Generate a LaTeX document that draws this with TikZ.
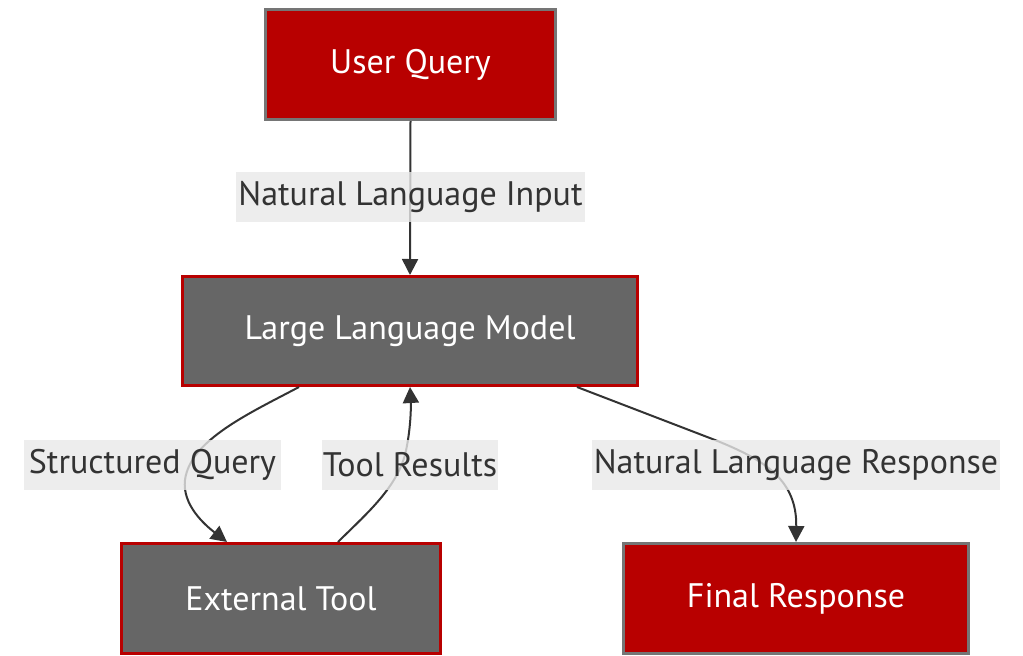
\documentclass[tikz,border=0pt]{standalone}
\usepackage{fontspec}
\setmainfont{PT Sans}
\usetikzlibrary{arrows.meta}
\definecolor{boxred}{HTML}{B80000}
\definecolor{boxgray}{HTML}{666666}
\definecolor{edgegray}{HTML}{333333}
\definecolor{labelbg}{HTML}{E8E8E8}

\begin{document}
\begin{tikzpicture}[x=1pt,y=-1pt,
  nodefont/.style={font=\fontsize{34}{40}\selectfont},
  redbox/.style={nodefont, draw=boxgray!90!white, fill=boxred, line width=3pt,
    text=white, inner sep=0pt},
  graybox/.style={nodefont, draw=boxred, fill=boxgray, line width=3pt,
    text=white, inner sep=0pt},
  edgelabel/.style={nodefont, fill=labelbg, fill opacity=0.8, text opacity=1,
    text=edgegray, inner sep=0pt, minimum height=50pt},
  flow/.style={draw=edgegray, line width=2pt,
    -{Triangle[length=16pt,width=16pt]}}
]
\useasboundingbox (0,0) rectangle (1023,656);

% boxes
\node[redbox, minimum width=290pt, minimum height=110pt] (uq) at (410.5,64.5) {User Query};
\node[graybox, minimum width=455pt, minimum height=109pt] (llm) at (410,331) {Large Language Model};
\node[graybox, minimum width=319pt, minimum height=110pt] (ext) at (281,598.5) {External Tool};
\node[redbox, minimum width=345pt, minimum height=110pt] (fin) at (796,598.5) {Final Response};

% connectors
\draw[flow] (uq.south) -- (llm.north);
\draw[flow] ([xshift=-111pt]llm.south) .. controls (250,413) and (190,440) .. (185,480)
  .. controls (182,505) and (205,525) .. ([xshift=-54pt]ext.north);
\draw[flow] ([xshift=57pt]ext.north) .. controls (365,515) and (395,490) .. (405,455)
  .. controls (411,430) and (411,405) .. (llm.south);
\draw[flow] ([xshift=167pt]llm.south) -- (715,440) .. controls (765,460) and (797,480)
  .. (fin.north);

% connector labels
\node[edgelabel, minimum width=349pt] (l1) at (410.5,197) {Natural Language Input};
\node[edgelabel, minimum width=257pt] (l2) at (152.5,465) {Structured Query};
\node[edgelabel, minimum width=176pt] (l3) at (410,465) {Tool Results};
\node[edgelabel, minimum width=408pt] (l4) at (796,465) {Natural Language Response};
\end{tikzpicture}
\end{document}
